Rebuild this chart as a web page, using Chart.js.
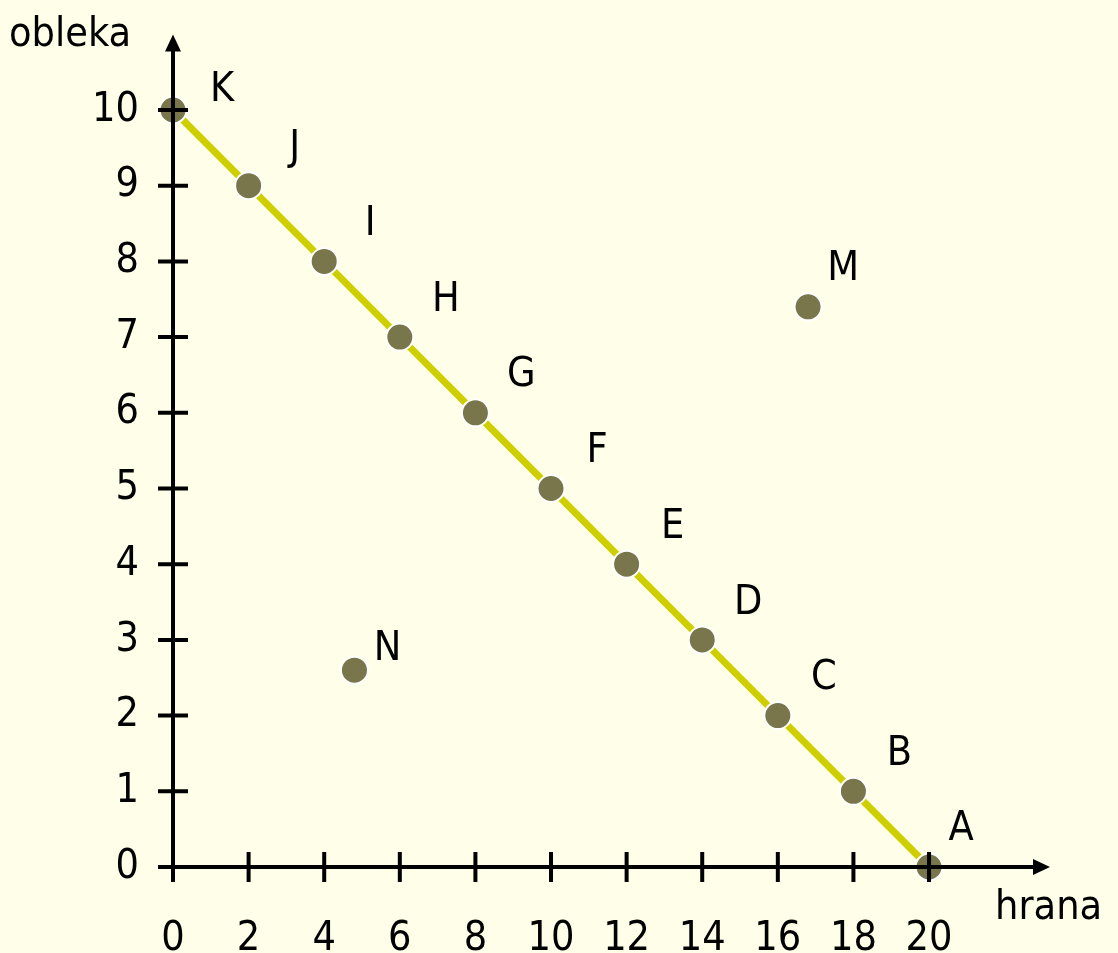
<!DOCTYPE html>
<html>
<head>
<meta charset="utf-8">
<script src="https://cdn.jsdelivr.net/npm/chart.js@4/dist/chart.umd.min.js"></script>
<style>
  html, body { margin: 0; padding: 0; background: #FFFFE9; }
  #wrap { width: 1118px; height: 953px; position: relative; }
</style>
</head>
<body>
<div id="wrap"><canvas id="c"></canvas></div>
<script>
// ── data ───────────────────────────────────────────────
const lineNames   = ['A', 'B', 'C', 'D', 'E', 'F', 'G', 'H', 'I', 'J', 'K'];
const lineHrana   = [20, 18, 16, 14, 12, 10, 8, 6, 4, 2, 0];
const lineObleka  = [0, 1, 2, 3, 4, 5, 6, 7, 8, 9, 10];

const extraNames  = ['M', 'N'];
const extraHrana  = [16.8, 4.8];
const extraObleka = [7.4, 2.6];

const xTicks = [0, 2, 4, 6, 8, 10, 12, 14, 16, 18, 20];
const yTicks = [0, 1, 2, 3, 4, 5, 6, 7, 8, 9, 10];

const xTitle = 'hrana';
const yTitle = 'obleka';

// ── style ──────────────────────────────────────────────
const FONT = "'DejaVu Sans Condensed', 'DejaVu Sans', sans-serif";
const FONT_SIZE = 41;
const DOT = '#78764A';
const LINE = '#CECE00';

// label offsets (px) from each point, by name
const labelOffset = {
  K: [49, -20], A: [32, -38], M: [35, -37], N: [33, -21]
};
const defaultOffset = [46, -37];

const axesPlugin = {
  id: 'axes',
  afterDatasetsDraw(chart) {
    const { ctx, scales: { x, y } } = chart;
    const x0 = x.getPixelForValue(0), y0 = y.getPixelForValue(0);
    const xEnd = x.getPixelForValue(23.2), yEnd = y.getPixelForValue(10.97);
    ctx.save();
    ctx.strokeStyle = '#000';
    ctx.fillStyle = '#000';
    ctx.lineWidth = 4;
    ctx.lineCap = 'butt';
    ctx.beginPath();
    ctx.moveTo(x0, y0); ctx.lineTo(xEnd - 10, y0);
    ctx.moveTo(x0, y0); ctx.lineTo(x0, yEnd + 10);
    ctx.stroke();
    // arrow heads
    ctx.beginPath();
    ctx.moveTo(xEnd, y0); ctx.lineTo(xEnd - 17, y0 - 8); ctx.lineTo(xEnd - 17, y0 + 8); ctx.closePath();
    ctx.moveTo(x0, yEnd - 2); ctx.lineTo(x0 - 8, yEnd + 15); ctx.lineTo(x0 + 8, yEnd + 15); ctx.closePath();
    ctx.fill();
    // crossing tick marks
    ctx.lineWidth = 4;
    ctx.beginPath();
    xTicks.forEach(v => {
      const px = x.getPixelForValue(v);
      ctx.moveTo(px, y0 - 15); ctx.lineTo(px, y0 + 15);
    });
    yTicks.forEach(v => {
      const py = y.getPixelForValue(v);
      ctx.moveTo(x0 - 15, py); ctx.lineTo(x0 + 15, py);
    });
    ctx.stroke();

    // point labels
    ctx.font = FONT_SIZE + 'px ' + FONT;
    ctx.textAlign = 'center';
    ctx.textBaseline = 'middle';
    chart.data.datasets.forEach((ds, i) => {
      const meta = chart.getDatasetMeta(i);
      meta.data.forEach((el, j) => {
        const name = ds.names[j];
        const off = labelOffset[name] || defaultOffset;
        ctx.fillText(name, el.x + off[0], el.y + off[1]);
      });
    });

    // axis titles
    ctx.textAlign = 'left';
    ctx.fillText(yTitle, 9, 35);
    ctx.fillText(xTitle, 995, 908);
    ctx.restore();
  }
};

new Chart(document.getElementById('c'), {
  type: 'scatter',
  data: {
    datasets: [
      {
        names: lineNames,
        data: lineHrana.map((h, i) => ({ x: h, y: lineObleka[i] })),
        showLine: true,
        borderColor: LINE,
        borderWidth: 7,
        pointBackgroundColor: DOT,
        pointBorderColor: '#fff',
        pointBorderWidth: 2,
        pointRadius: 13.5,
        clip: false
      },
      {
        names: extraNames,
        data: extraHrana.map((h, i) => ({ x: h, y: extraObleka[i] })),
        showLine: false,
        pointBackgroundColor: DOT,
        pointBorderColor: '#fff',
        pointBorderWidth: 2,
        pointRadius: 13.5,
        clip: false
      }
    ]
  },
  options: {
    responsive: true,
    maintainAspectRatio: false,
    animation: false,
    layout: { padding: { top: 110, right: 68, left: 0, bottom: 0 } },
    plugins: { legend: { display: false }, tooltip: { enabled: false } },
    scales: {
      x: {
        type: 'linear', min: 0, max: 23.2,
        grid: { display: false, drawTicks: false },
        border: { display: false },
        afterBuildTicks: s => { s.ticks = xTicks.map(v => ({ value: v })); },
        afterFit: s => { s.height = 86; },
        ticks: {
          color: '#000', padding: 48, autoSkip: false, maxRotation: 0,
          font: { family: FONT, size: FONT_SIZE }
        }
      },
      y: {
        type: 'linear', min: 0, max: 10,
        grid: { display: false, drawTicks: false },
        border: { display: false },
        afterBuildTicks: s => { s.ticks = yTicks.map(v => ({ value: v })); },
        afterFit: s => { s.width = 173; },
        ticks: {
          color: '#000', padding: 34, autoSkip: false,
          font: { family: FONT, size: FONT_SIZE }
        }
      }
    }
  },
  plugins: [axesPlugin]
});
</script>
</body>
</html>
